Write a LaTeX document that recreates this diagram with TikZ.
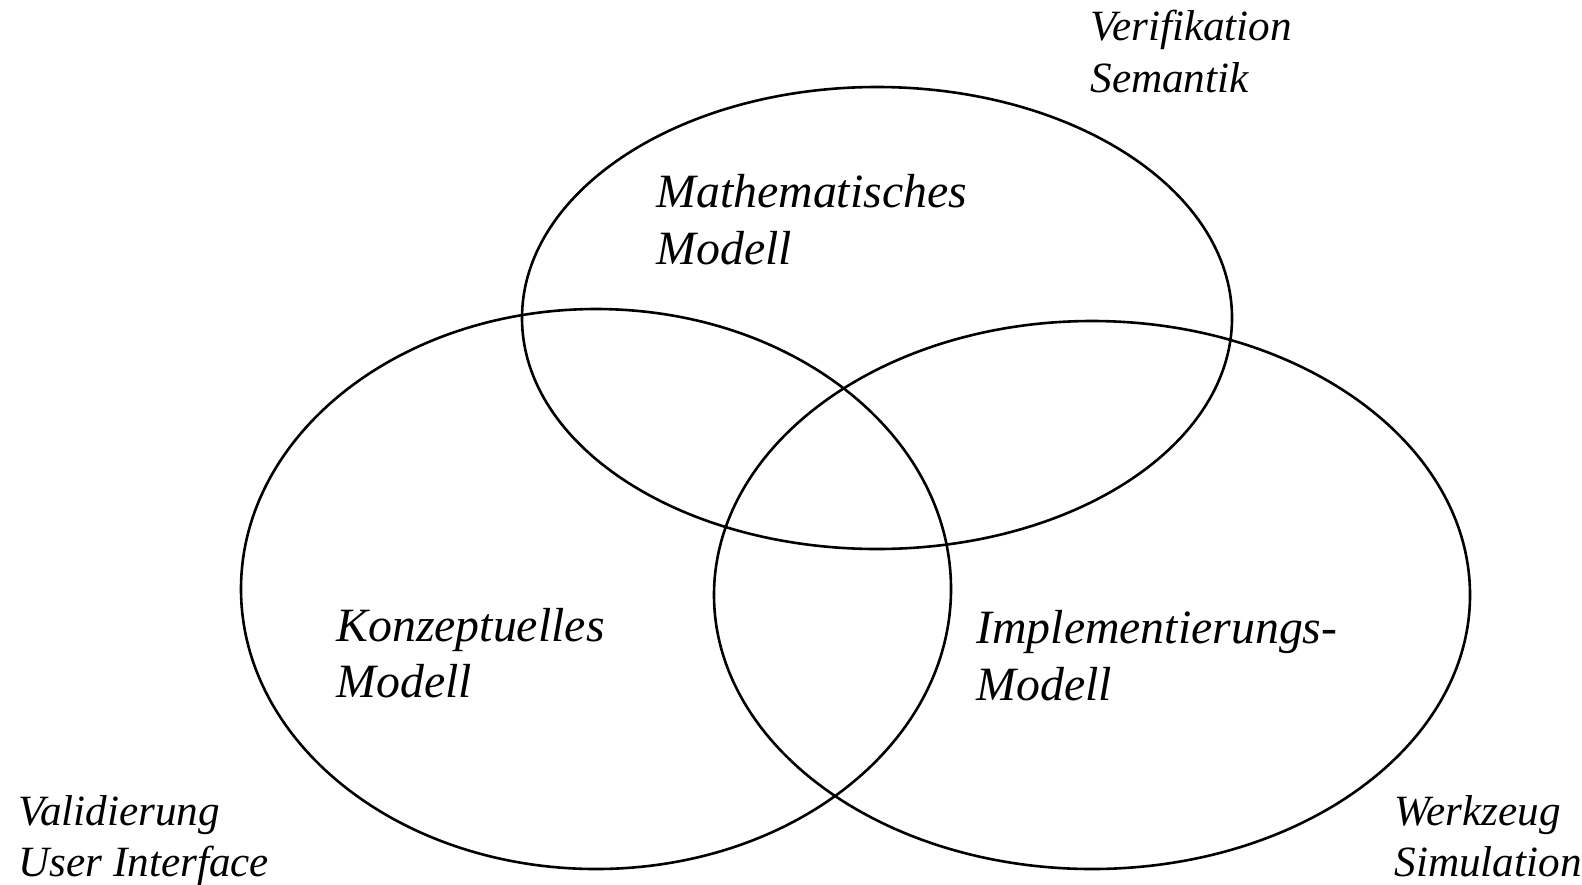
\documentclass[tikz,border=0pt]{standalone}
\usepackage{fontspec}
\setmainfont{Liberation Serif}
\begin{document}
\begin{tikzpicture}[x=0.5pt,y=-0.5pt,
  ring/.style={line width=1.3pt},
  big/.style={font=\fontsize{23.9}{28}\selectfont\itshape, inner sep=0pt, anchor=base west},
  small/.style={font=\fontsize{21.6}{25}\selectfont\itshape, inner sep=0pt, anchor=base west}]
\useasboundingbox (0,0) rectangle (1582,884);
\draw[ring] (877,318) ellipse [x radius=177.5pt, y radius=115.5pt];
\draw[ring] (596,589) ellipse [x radius=177.5pt, y radius=140pt];
\draw[ring] (1092,595) ellipse [x radius=189pt, y radius=137pt];
\node[big] (m1) at (656,207) {Mathematisches};
\node[big] (m2) at (656,264) {Modell};
\node[big] (k1) at (336,641) {Konzeptuelles};
\node[big] (k2) at (336,697) {Modell};
\node[big] (i1) at (976,643) {Implementierungs-};
\node[big] (i2) at (976,700) {Modell};
\node[small] (v1) at (1090,40) {Verifikation};
\node[small] (v2) at (1090,92) {Semantik};
\node[small] (u1) at (18,825) {Validierung};
\node[small] (u2) at (18,876) {User Interface};
\node[small] (w1) at (1394,825) {Werkzeug};
\node[small] (w2) at (1394,876) {Simulation};
\end{tikzpicture}
\end{document}
